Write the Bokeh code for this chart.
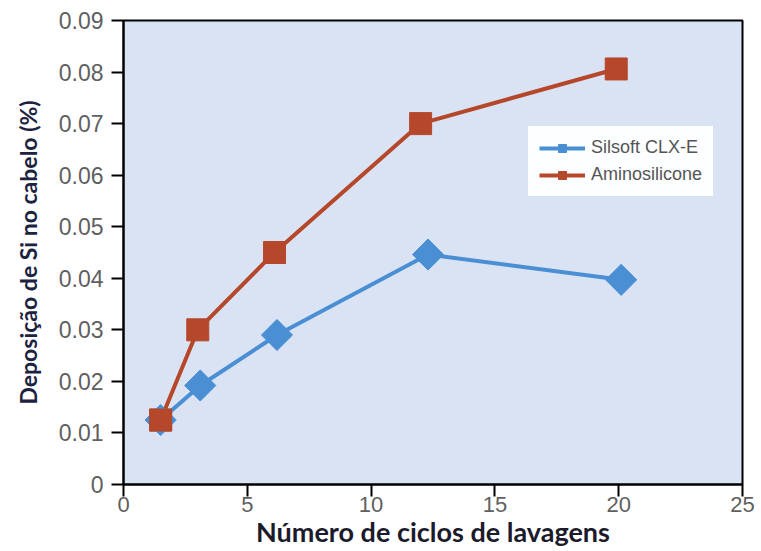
import math
from bokeh.plotting import figure
from bokeh.models import Range1d, Legend, LegendItem, FixedTicker, CustomJSTickFormatter
from bokeh.embed import file_html
from bokeh.resources import INLINE

ciclos_silsoft = [1.5, 3.1, 6.2, 12.3, 20.1]
silsoft = [0.0125, 0.0192, 0.029, 0.0446, 0.0397]
ciclos_amino = [1.5, 3.0, 6.1, 12.0, 19.9]
amino = [0.0125, 0.030, 0.045, 0.070, 0.0806]
x_ticks = [0, 5, 10, 15, 20, 25]
y_ticks = [0, 0.01, 0.02, 0.03, 0.04, 0.05, 0.06, 0.07, 0.08, 0.09]

blue = "#4a8fd4"
red = "#b5472b"

p = figure(width=761, height=551, output_backend="svg", toolbar_location=None,
           x_range=Range1d(0, 25), y_range=Range1d(0, 0.09),
           min_border_left=123, min_border_right=19, min_border_top=20, min_border_bottom=67)
p.background_fill_color = "#dae3f3"
p.border_fill_color = "white"
p.outline_line_color = "black"
p.outline_line_width = 2
p.grid.visible = False

for ax in (p.xaxis[0], p.yaxis[0]):
    ax.axis_line_width = 2
    ax.axis_line_color = "black"
    ax.major_tick_line_width = 2
    ax.major_tick_line_color = "black"
    ax.major_tick_out = 12
    ax.major_tick_in = 0
    ax.minor_tick_line_color = None
    ax.major_label_text_font = "Liberation Sans"
    ax.major_label_text_font_size = "23px"
    ax.major_label_text_color = "#5f5f5f"
    ax.axis_label_text_font = "Lato"
    ax.axis_label_text_font_style = "bold"
    ax.axis_label_text_color = "#1b1b2b"

p.xaxis.ticker = FixedTicker(ticks=x_ticks)
p.yaxis.ticker = FixedTicker(ticks=y_ticks)
p.yaxis.formatter = CustomJSTickFormatter(code="return tick == 0 ? '0' : tick.toFixed(2);")
p.xaxis.major_label_text_font_size = "22px"
p.xaxis.axis_label = "Número de ciclos de lavagens"
p.xaxis.axis_label_text_font_size = "27px"
p.xaxis.axis_label_standoff = 0
p.xaxis.major_label_standoff = 0
p.yaxis.axis_label = "Deposição de Si no cabelo (%)"
p.yaxis.axis_label_text_font_size = "23px"
p.yaxis.axis_label_text_color = "#1b2340"
p.yaxis.axis_label_standoff = 14
p.yaxis.major_label_standoff = 8

l1 = p.line(ciclos_amino, amino, line_color=red, line_width=4)
m1 = p.scatter(ciclos_amino, amino, marker="square", size=22, fill_color=red, line_color=red)
l2 = p.line(ciclos_silsoft, silsoft, line_color=blue, line_width=4)
m2 = p.scatter(ciclos_silsoft, silsoft, marker="square", size=22, angle=math.pi / 4,
               fill_color=blue, line_color=blue)
# first amino square sits on top of the first silsoft point
p.scatter(ciclos_amino[:1], amino[:1], marker="square", size=22, fill_color=red, line_color=red)

legend = Legend(items=[LegendItem(label="Silsoft CLX-E", renderers=[l2, m2]),
                       LegendItem(label="Aminosilicone", renderers=[l1, m1])],
                location=(405, 288))
legend.background_fill_color = "white"
legend.border_line_color = "white"
legend.border_line_width = 1
legend.label_text_font = "Liberation Sans"
legend.label_text_font_size = "18px"
legend.label_text_color = "#555555"
legend.glyph_width = 46
legend.glyph_height = 20
legend.label_height = 20
legend.spacing = 6
legend.padding = 10
legend.margin = 0
legend.label_standoff = 6
p.add_layout(legend, "center")

open("out.html", "w").write(file_html(p, INLINE))
